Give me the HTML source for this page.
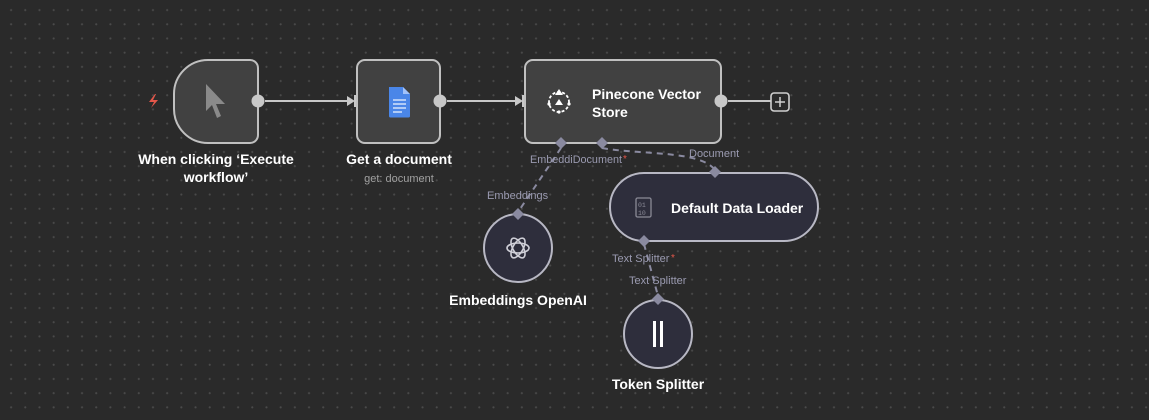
<!DOCTYPE html>
<html><head><style>
html,body{margin:0;padding:0;width:1149px;height:420px;overflow:hidden;background:#2a2a2a;}
body{background-image:radial-gradient(circle,#4a4a4a 0.9px,transparent 1.2px);background-size:14.2px 14.2px;background-position:4px 3px;font-family:"Liberation Sans",sans-serif;}
svg{position:absolute;left:0;top:0}
</style></head><body>
<svg width="1149" height="420" viewBox="0 0 1149 420">
<g fill="none" stroke="#c8c8c8" stroke-width="2">
<line x1="265" y1="101" x2="350" y2="101"/>
<line x1="447" y1="101" x2="518" y2="101"/>
<line x1="728" y1="101" x2="771" y2="101"/>
</g>
<polygon points="347,96 355,101 347,106" fill="#c8c8c8"/>
<polygon points="515,96 523,101 515,106" fill="#c8c8c8"/>
<rect x="354" y="95" width="4" height="12" fill="#c8c8c8"/>
<rect x="522" y="95" width="4" height="12" fill="#c8c8c8"/>
<g fill="none" stroke="#8a8aa0" stroke-width="2" stroke-dasharray="6,5">
<path d="M561,148 L518,212"/>
<path d="M602,148 C640,155 700,150 715,170"/>
<path d="M644,244 L658,296"/>
</g>
<path d="M208,60 H250 a8,8 0 0 1 8,8 V135 a8,8 0 0 1 -8,8 H208 a34,34 0 0 1 -34,-34 V94 a34,34 0 0 1 34,-34Z" fill="#414141" stroke="#c0c0c0" stroke-width="2"/>
<path d="M206,84 L206,111 L212,105 L217,118 L221,116 L216,104 L225,104Z" fill="#8a8a8a"/>
<path d="M155,94 L149,102 L154,102 L151,108 L158,100 L153,100 L156,94Z" fill="#e4574a"/>
<circle cx="258" cy="101" r="6.5" fill="#c8c8c8"/>
<rect x="357" y="60" width="83" height="83" rx="8" fill="#414141" stroke="#c0c0c0" stroke-width="2"/>
<path d="M389,87 H403 L410,94 V116 a1.5,1.5 0 0 1 -1.5,1.5 H390.5 a1.5,1.5 0 0 1 -1.5,-1.5Z" fill="#4a86e8"/>
<path d="M403,87 V94 H410Z" fill="#a1c2fa"/>
<g stroke="#e8f0fe" stroke-width="1.3"><line x1="393" y1="100" x2="406" y2="100"/><line x1="393" y1="104" x2="406" y2="104"/><line x1="393" y1="108" x2="406" y2="108"/><line x1="393" y1="112" x2="402" y2="112"/></g>
<circle cx="440" cy="101" r="6.5" fill="#c8c8c8"/>
<rect x="525" y="60" width="196" height="83" rx="8" fill="#414141" stroke="#c0c0c0" stroke-width="2"/>
<g fill="none" stroke="#fff" stroke-width="1.8" stroke-dasharray="3,2"><circle cx="559" cy="102" r="10"/></g>
<g fill="#fff"><polygon points="559,89 555,95 563,95"/><polygon points="559,99 555,105 563,105"/><circle cx="559" cy="112" r="1.6"/><circle cx="549" cy="104" r="1.6"/><circle cx="569" cy="104" r="1.6"/></g>
<text x="592" y="99" font-size="14" font-weight="bold" fill="#fff">Pinecone Vector</text>
<text x="592" y="117" font-size="14" font-weight="bold" fill="#fff">Store</text>
<circle cx="721" cy="101" r="6.5" fill="#c8c8c8"/>
<rect x="771" y="93" width="18" height="18" rx="3" fill="#2a2a2a" stroke="#d0d0d0" stroke-width="1.6"/>
<path d="M780,97 V107 M775,102 H785" stroke="#d0d0d0" stroke-width="1.5"/>
<g fill="#8a8aa0">
<polygon points="561,137 567,143 561,149 555,143"/>
<polygon points="602,137 608,143 602,149 596,143"/>
</g>
<text x="530" y="163" font-size="11" fill="#9a9ab0" textLength="92" lengthAdjust="spacingAndGlyphs">EmbeddiDocument</text>
<text x="623" y="162" font-size="10" fill="#e4574a">*</text>
<text x="689" y="157" font-size="11" fill="#9a9ab0">Document</text>
<text x="487" y="199" font-size="11" fill="#9a9ab0">Embeddings</text>
<rect x="610" y="173" width="208" height="68" rx="34" fill="#2e2e3c" stroke="#b8b8c4" stroke-width="2"/>
<rect x="636" y="198" width="15" height="19" rx="1.5" fill="none" stroke="#8a8a96" stroke-width="1.3"/>
<text x="638" y="207" font-size="6.5" fill="#8a8a96" font-family="Liberation Mono,monospace">01</text>
<text x="638" y="215" font-size="6.5" fill="#8a8a96" font-family="Liberation Mono,monospace">10</text>
<text x="671" y="213" font-size="14" font-weight="bold" fill="#fff">Default Data Loader</text>
<g fill="#8a8aa0">
<polygon points="715,166 721,172 715,178 709,172"/>
<polygon points="644,235 650,241 644,247 638,241"/>
</g>
<text x="612" y="262" font-size="11" fill="#9a9ab0">Text Splitter</text>
<text x="671" y="261" font-size="10" fill="#e4574a">*</text>
<text x="629" y="284" font-size="11" fill="#9a9ab0">Text Splitter</text>
<circle cx="518" cy="248" r="34" fill="#2e2e3c" stroke="#b8b8c4" stroke-width="2"/>
<g fill="none" stroke="#d0d0d8" stroke-width="1.6">
<ellipse cx="518" cy="248" rx="11" ry="5"/>
<ellipse cx="518" cy="248" rx="11" ry="5" transform="rotate(60 518 248)"/>
<ellipse cx="518" cy="248" rx="11" ry="5" transform="rotate(120 518 248)"/>
</g>
<polygon points="518,208 524,214 518,220 512,214" fill="#8a8aa0"/>
<text x="518" y="305" font-size="14" font-weight="bold" fill="#fff" text-anchor="middle">Embeddings OpenAI</text>
<circle cx="658" cy="334" r="34" fill="#2e2e3c" stroke="#b8b8c4" stroke-width="2"/>
<rect x="653" y="321" width="3" height="26" fill="#fff"/>
<rect x="660" y="321" width="3" height="26" fill="#fff"/>
<polygon points="658,293 664,299 658,305 652,299" fill="#8a8aa0"/>
<text x="658" y="389" font-size="14" font-weight="bold" fill="#fff" text-anchor="middle">Token Splitter</text>
<text x="216" y="164" font-size="14" font-weight="bold" fill="#fff" text-anchor="middle">When clicking ‘Execute</text>
<text x="216" y="182" font-size="14" font-weight="bold" fill="#fff" text-anchor="middle">workflow’</text>
<text x="399" y="164" font-size="14" font-weight="bold" fill="#fff" text-anchor="middle">Get a document</text>
<text x="399" y="182" font-size="11" fill="#a0a0a0" text-anchor="middle">get: document</text>
</svg>
</body></html>
